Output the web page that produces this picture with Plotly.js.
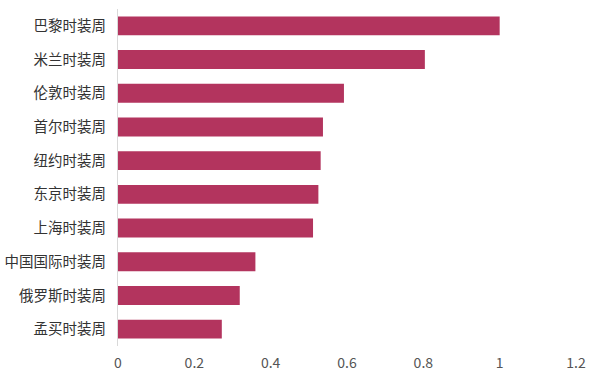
<!DOCTYPE html>
<html>
<head>
<meta charset="utf-8">
<script src="https://cdn.plot.ly/plotly-3.0.1.min.js"></script>
<style>html,body{margin:0;padding:0;background:#fff;}#chart{width:600px;height:380px;}</style>
</head>
<body>
<div id="chart"></div>
<script>
var categories = ["巴黎时装周","米兰时装周","伦敦时装周","首尔时装周","纽约时装周","东京时装周","上海时装周","中国国际时装周","俄罗斯时装周","孟买时装周"];
var values = [1.0, 0.804, 0.592, 0.537, 0.531, 0.525, 0.511, 0.360, 0.319, 0.272];
var tickVals = [0, 0.2, 0.4, 0.6, 0.8, 1, 1.2];
var tickText = ["0","0.2","0.4","0.6","0.8","1","1.2"];

var trace = {
  type: "bar",
  orientation: "h",
  y: categories,
  x: values,
  marker: {color: "#B3345E", line: {width: 0}},
  hoverinfo: "none"
};
var layout = {
  width: 600, height: 380,
  margin: {l: 118, r: 24, t: 9, b: 34},
  paper_bgcolor: "#fff", plot_bgcolor: "#fff",
  font: {family: "Noto Sans CJK SC, sans-serif", size: 14, color: "#333"},
  bargap: 0.44,
  showlegend: false,
  xaxis: {
    range: [0, 1.2], tickvals: tickVals, ticktext: tickText,
    showgrid: false, zeroline: false, showline: false, ticks: "",
    tickfont: {size: 14, color: "#555"}, ticklabelstandoff: 7
  },
  yaxis: {
    autorange: "reversed", type: "category",
    showgrid: false, zeroline: false,
    showline: true, linecolor: "#d9d9d9", linewidth: 1,
    ticks: "", ticklabelstandoff: 8,
    tickfont: {size: 14.5, color: "#333"}
  }
};
Plotly.newPlot("chart", [trace], layout, {displayModeBar: false, staticPlot: true});
</script>
</body>
</html>
